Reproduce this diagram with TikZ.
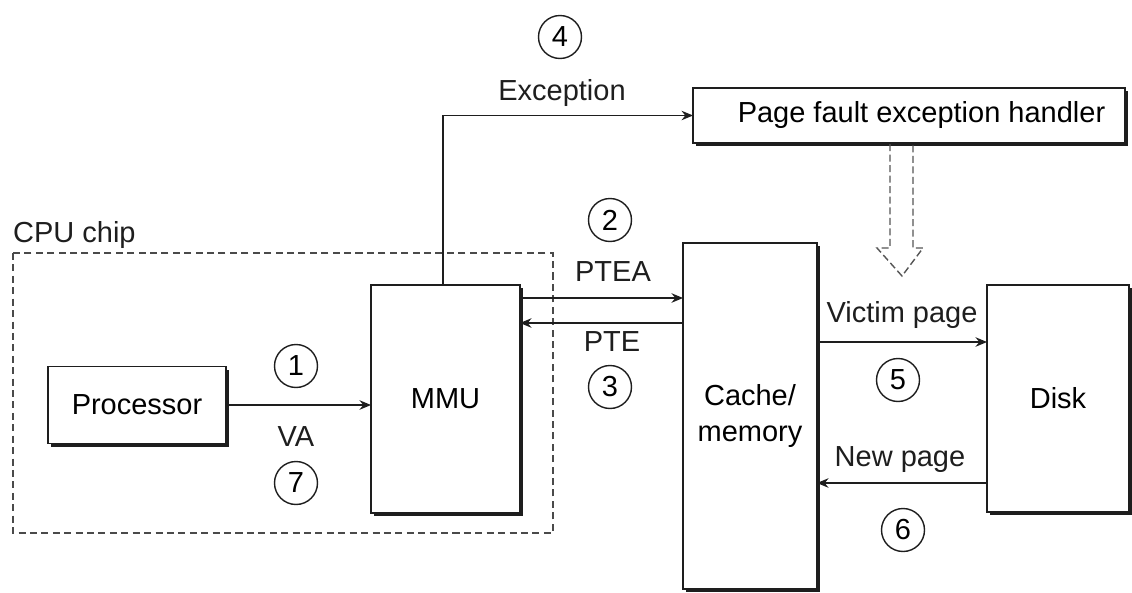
\documentclass[tikz,border=0pt]{standalone}
\usepackage{fontspec}
\setmainfont{Liberation Sans}
\usepackage{tikz}
\usetikzlibrary{arrows.meta,shadows,calc}
\definecolor{tinte}{HTML}{1E1E1E}
\definecolor{grau}{HTML}{4A4A4A}
\definecolor{hgrau}{HTML}{555555}
\tikzset{
  blk/.style={draw=tinte,line width=0.8pt,fill=white,inner sep=0pt,outer sep=0pt,
    align=center,drop shadow={shadow xshift=1.8pt,shadow yshift=-1.8pt,fill=tinte,opacity=1}},
  conn/.style={-{Stealth[length=2.3mm,width=1.9mm]},tinte,line width=0.8pt},
  num/.style={circle,draw=tinte,line width=0.8pt,minimum size=0.86cm,inner sep=0pt},
  lbl/.style={text=tinte},
  chip/.style={grau,dashed,dash pattern=on 4pt off 2.5pt,line width=0.9pt},
  hohl/.style={hgrau,dashed,dash pattern=on 4pt off 2pt,line width=0.8pt},
}

\begin{document}
\begin{tikzpicture}[x=0.02cm,y=-0.02cm,font=\fontsize{16.5}{20.5}\selectfont]
  \useasboundingbox (0,0) rectangle (1132,592);
  % CPU chip
  \draw[chip] (13,253) rectangle (553,533);
  \node[lbl,anchor=west] (cpu) at (7,235) {CPU chip};
  % boxes
  \node[blk,minimum width=3.56cm,minimum height=1.54cm] (proc) at (137,405) {Processor};
  \node[blk,minimum width=2.98cm,minimum height=4.56cm] (mmu) at (445.5,399) {MMU};
  \node[blk,minimum width=2.68cm,minimum height=6.92cm] (cache) at (750,416) {Cache/\\memory};
  \node[blk,minimum width=2.84cm,minimum height=4.54cm] (disk) at (1058,398.5) {Disk};
  \node[blk,minimum width=8.64cm,minimum height=1.1cm] (handler) at (909,115.5) {\hspace*{0.5cm}Page fault exception handler};
  % levels
  \coordinate (yptea) at (0,298);
  \coordinate (ypte) at (0,323);
  \coordinate (yvic) at (0,342);
  \coordinate (ynew) at (0,483);
  \coordinate (exc) at (443,0);
  % connectors
  \draw[conn] (proc.east) -- (proc.east -| mmu.west);
  \draw[conn] (exc |- mmu.north) |- (handler.west);
  \draw[conn] (yptea -| mmu.east) -- (yptea -| cache.west);
  \draw[conn] (ypte -| cache.west) -- (ypte -| mmu.east);
  \draw[conn] (yvic -| cache.east) -- (yvic -| disk.west);
  \draw[conn] (ynew -| disk.west) -- (ynew -| cache.east);
  % hollow arrow
  \draw[hohl] (890,144) -- (890,248) -- (877,248) -- (902,276) -- (923,248) -- (913,248) -- (913,144);
  % labels
  \node[num] (n1) at (296,366) {1};
  \node[lbl] (va) at (296,437) {VA};
  \node[num] (n7) at (296,483) {7};
  \node[num] (n4) at (560,37) {4};
  \node[lbl] (exl) at (562,93) {Exception};
  \node[num] (n2) at (610,220) {2};
  \node[lbl] (ptea) at (613,272) {PTEA};
  \node[lbl] (pte) at (612,342) {PTE};
  \node[num] (n3) at (610,387) {3};
  \node[lbl] (vic) at (902,315) {Victim page};
  \node[num] (n5) at (898,380) {5};
  \node[lbl] (new) at (900,460) {New page};
  \node[num] (n6) at (903,530) {6};
\end{tikzpicture}
\end{document}
